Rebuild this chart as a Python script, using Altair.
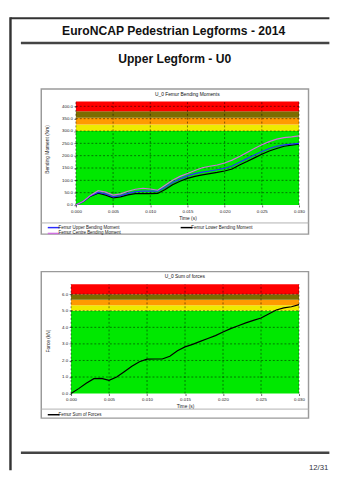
import altair as alt
import pandas as pd

# ---------------- data ----------------
time_s = [0.000, 0.001, 0.002, 0.003, 0.004, 0.005, 0.006, 0.007, 0.008, 0.009, 0.010,
          0.011, 0.012, 0.013, 0.014, 0.015, 0.016, 0.017, 0.018, 0.019, 0.020,
          0.021, 0.022, 0.023, 0.024, 0.025, 0.026, 0.027, 0.028, 0.029, 0.030]

upper_nm = [0, 14, 38, 51, 45, 33, 38, 47, 54, 56, 56, 56, 72, 91, 106, 118, 127, 133, 138, 143,
            149, 158, 173, 188, 203, 217, 229, 238, 244, 247, 250]
centre_nm = [0, 15, 40, 58, 52, 40, 45, 56, 64, 68, 65, 60, 80, 100, 116, 128, 140, 151, 157, 162,
             170, 182, 197, 213, 229, 244, 257, 267, 273, 276, 280]
lower_nm = [0, 14, 36, 48, 40, 29, 33, 41, 46, 46, 46, 47, 63, 82, 96, 108, 116, 122, 127, 132,
            138, 146, 162, 176, 191, 206, 219, 229, 238, 243, 247]
force_kn = [0, 0.30, 0.62, 0.90, 0.92, 0.80, 1.00, 1.32, 1.65, 1.92, 2.08, 2.09, 2.09, 2.25, 2.58,
            2.82, 2.97, 3.15, 3.33, 3.50, 3.72, 3.92, 4.10, 4.27, 4.42, 4.56, 4.80, 5.05, 5.17,
            5.24, 5.37]

# legend order (column-major, 2 columns): Upper, Centre | Lower
series_names = ["Femur Upper Bending Moment", "Femur Centre Bending Moment", "Femur Lower Bending Moment"]
series_colors = ["#2a2aff", "#d070e0", "#000000"]
force_name = ["Femur Sum of Forces"]

band_names = ["good", "adequate", "marginal", "weak", "poor"]
band_colors = ["#00e800", "#eeea00", "#ff9a00", "#7b6c00", "#ff0000"]
bm_edges = [0, 300, 326.7, 353.3, 380, 420]
force_edges = [0, 5.0, 5.33, 5.67, 6.0, 6.6]

x_ticks = [0.000, 0.005, 0.010, 0.015, 0.020, 0.025, 0.030]
bm_ticks = [0, 50, 100, 150, 200, 250, 300, 350, 400]
force_ticks = [0, 1, 2, 3, 4, 5, 6]

page_title = "EuroNCAP Pedestrian Legforms - 2014"
page_subtitle = "Upper Legform - U0"
chart1_title = "U_0 Femur Bending Moments"
chart2_title = "U_0 Sum of forces"
page_number = "12/31"

FONT = "Liberation Sans"

# ---------------- tables ----------------
lines1 = pd.DataFrame({
    "t": time_s * 3,
    "v": lower_nm + upper_nm + centre_nm,
    "series": [series_names[2]] * len(time_s) + [series_names[0]] * len(time_s) + [series_names[1]] * len(time_s),
})
lines2 = pd.DataFrame({"t": time_s, "v": force_kn, "series": force_name * len(time_s)})
one = pd.DataFrame({"k": [0]})


def bands(edges):
    return pd.DataFrame({"lo": edges[:-1], "hi": edges[1:], "band": band_names,
                         "xs": [time_s[0]] * 5, "xe": [time_s[-1]] * 5})


def vgrid(ymax):
    return pd.DataFrame({"gx": x_ticks, "ylo": [0] * len(x_ticks), "yhi": [ymax] * len(x_ticks)})


def hgrid(ticks):
    return pd.DataFrame({"gy": ticks, "xs": [time_s[0]] * len(ticks), "xe": [time_s[-1]] * len(ticks)})


# ---------------- decoration helpers (pixel positions relative to a panel) ----------------
def hline(y, x1, x2, color, w):
    return alt.Chart(one).mark_rule(color=color, strokeWidth=w).encode(
        x=alt.value(x1), x2=alt.value(x2), y=alt.value(y))


def vline(x, y1, y2, color, w):
    return alt.Chart(one).mark_rule(color=color, strokeWidth=w).encode(
        y=alt.value(y1), y2=alt.value(y2), x=alt.value(x))


def label(txt, x, y, size, weight="normal", align="center", color="#111"):
    return alt.Chart(one).mark_text(text=txt, font=FONT, fontSize=size, fontWeight=weight,
                                    align=align, baseline="middle", color=color).encode(
        x=alt.value(x), y=alt.value(y))


def box(x1, x2, y1, y2):
    return alt.Chart(one).mark_rect(fill="white", fillOpacity=0, stroke="#9a9a9a", strokeWidth=1.5).encode(
        x=alt.value(x1), x2=alt.value(x2), y=alt.value(y1), y2=alt.value(y2))


def panel(line_df, edges, yticks, w, h, xr, y_off, ytitle, ytx, yty, xtx, names, colors, legend, decor):
    sx = alt.Scale(domain=[0, 0.03], range=xr, nice=False, zero=False)
    sy = alt.Scale(domain=[edges[0], edges[-1]], nice=False, zero=False)
    ax = alt.Axis(orient="bottom", values=x_ticks, format=".3f", labelFontSize=4.5,
                  labelFont=FONT, labelColor="#222", labelPadding=1.5, labelFlush=False,
                  labelOverlap=False, tickSize=2, tickColor="#000", tickWidth=0.6, domain=False,
                  grid=False, title="Time (s)", titleFont=FONT, titleFontSize=5,
                  titleFontWeight="normal", titleColor="#222", titleX=xtx, titleY=12.5,
                  titleBaseline="middle", titleAlign="center", zindex=2)
    ay = alt.Axis(orient="left", offset=y_off, values=yticks, format=".1f", labelFontSize=4.5,
                  labelFont=FONT, labelColor="#222", labelPadding=1.5, labelOverlap=False,
                  tickSize=2, tickColor="#000", tickWidth=0.6, domain=False, grid=False,
                  title=ytitle, titleFont=FONT, titleFontSize=5, titleFontWeight="normal",
                  titleColor="#222", titleAngle=270, titleX=ytx, titleY=yty,
                  titleBaseline="middle", titleAlign="center", zindex=2)

    def X(f):
        return alt.X(f, type="quantitative", scale=sx, axis=ax)

    def Y(f):
        return alt.Y(f, type="quantitative", scale=sy, axis=ay)

    b = alt.Chart(bands(edges)).mark_rect().encode(
        x=X("xs"), x2="xe", y=Y("lo"), y2="hi",
        fill=alt.Fill("band:N", scale=alt.Scale(domain=band_names, range=band_colors), legend=None),
    )
    vg = alt.Chart(vgrid(edges[-1])).mark_rule(color="#000", strokeWidth=0.5, strokeDash=[2, 2]).encode(
        x=X("gx"), y=Y("ylo"), y2="yhi")
    hg = alt.Chart(hgrid(yticks[1:])).mark_rule(color="#000", strokeWidth=0.5, strokeDash=[2, 2]).encode(
        y=Y("gy"), x=X("xs"), x2="xe")
    ln = alt.Chart(line_df).mark_line(strokeWidth=1.2).encode(
        x=X("t"), y=Y("v"),
        stroke=alt.Stroke("series:N", scale=alt.Scale(domain=names, range=colors), legend=legend),
        detail="series:N",
        order=alt.Order("t:Q"),
    )
    return alt.layer(*decor, b, vg, hg, ln).properties(width=w, height=h)


leg1 = alt.Legend(orient="none", legendX=-21, legendY=127.1, columns=2, columnPadding=58,
                  rowPadding=0, symbolType="M-3,0H3", symbolSize=16, symbolStrokeWidth=1.5,
                  labelFontSize=4.6, labelFont=FONT, labelColor="#222", labelOffset=2,
                  padding=0, title=None, zindex=2)
leg2 = alt.Legend(orient="none", legendX=-21, legendY=131.5, columns=1,
                  rowPadding=0, symbolType="M-3,0H3", symbolSize=16, symbolStrokeWidth=1.5,
                  labelFontSize=4.6, labelFont=FONT, labelColor="#222", labelOffset=2,
                  padding=0, title=None, zindex=2)

# panel 1 origin sits at window (71.7, 94.7); panel 2 origin at (71.7, 283)
decor1 = [
    hline(-85.7, -62.5, 266.3, "#333", 2),
    vline(-62.45, -86.7, 380.3, "#333", 2.5),
    label(page_title, 105.8, -72.7, 12.5, "bold"),
    hline(-60.2, -51.7, 266.3, "#444", 2.5),
    label(page_subtitle, 106.8, -43.7, 12.5, "bold"),
    box(-30.7, 244.8, -12.7, 136.8),
    hline(125.3, -30.7, 244.8, "#b0b0b0", 1),
    label(chart1_title, 119.8, -8, 5),
]
decor2 = [
    box(-30.7, 244.8, -13, 138),
    hline(128.7, -30.7, 244.8, "#b0b0b0", 1),
    label(chart2_title, 117.3, -8, 5),
    hline(173.7, -51.7, 266.3, "#444", 2.5),
    label(page_number, 265.3, 189.5, 8, align="right", color="#334"),
]

p1 = panel(lines1, bm_edges, bm_ticks, 235, 106.8, [5, 235], -5,
           "Bending Moment (Nm)", -30.2, 49, 120, series_names, series_colors, leg1, decor1)
p2 = panel(lines2, force_edges, force_ticks, 235, 112.7, [0, 235], 0,
           "Force (kN)", -23.7, 58, 117.5, force_name, ["#000000"], leg2, decor2)

chart = alt.vconcat(p1, p2, spacing=81.5, bounds="flush").resolve_scale(
    stroke="independent", fill="independent", x="independent", y="independent"
).resolve_legend(stroke="independent").properties(padding=0).configure_view(stroke="transparent")

chart.save("out.html", embed_options={"renderer": "svg", "actions": False})
